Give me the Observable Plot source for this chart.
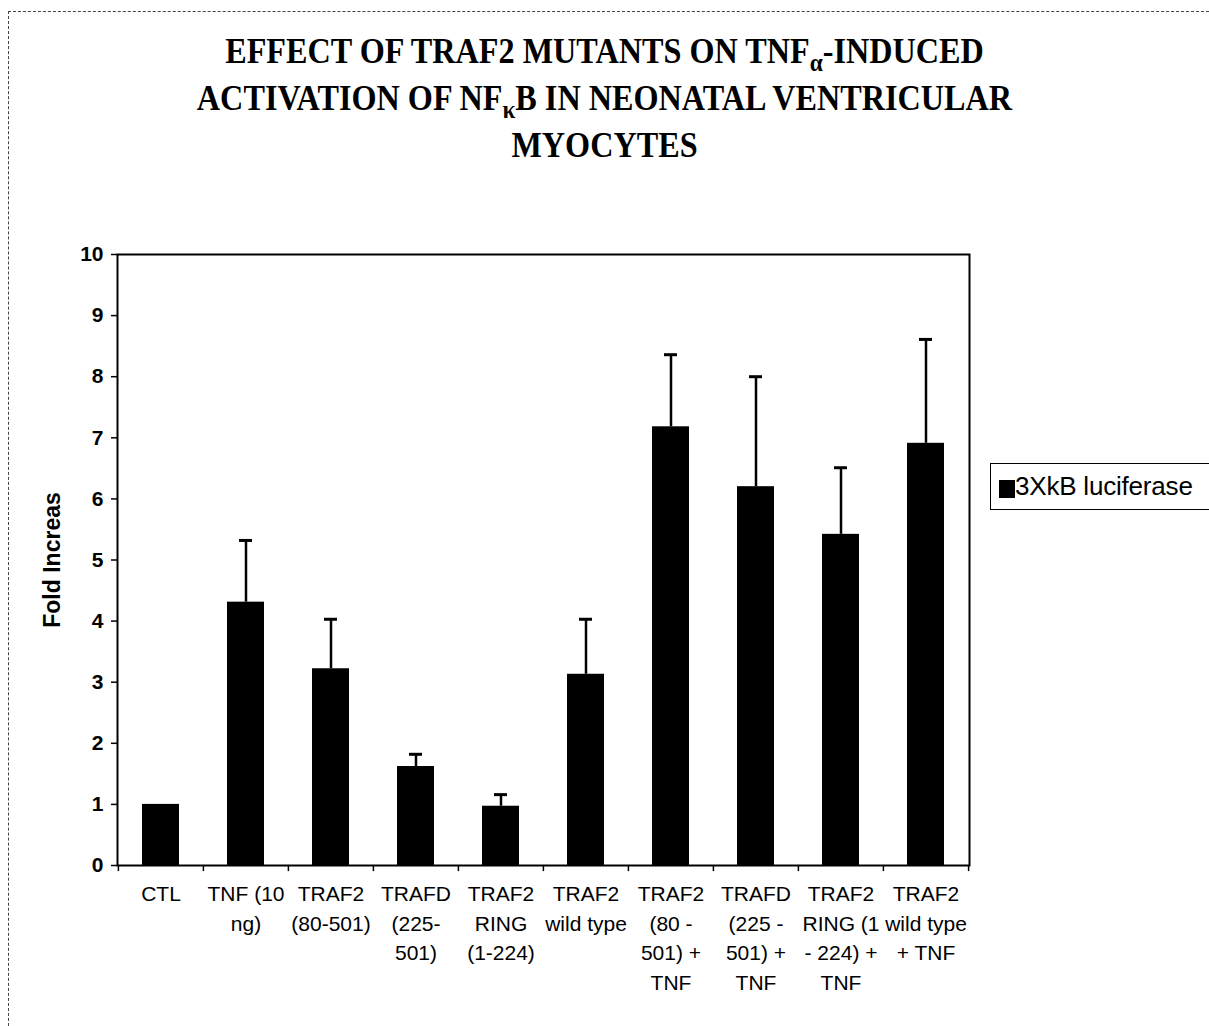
<!DOCTYPE html>
<html>
<head>
<meta charset="utf-8">
<script src="https://cdn.jsdelivr.net/npm/d3@7"></script>
<script src="https://cdn.jsdelivr.net/npm/@observablehq/plot@0.6"></script>
<style>
  html, body { margin: 0; padding: 0; background: #fff; }
  #page { position: relative; width: 1209px; height: 1026px; overflow: hidden; background: #fff; }
  #border { position: absolute; left: 8px; top: 11px; right: -10px; bottom: -10px;
            border-top: 1px dashed #444; border-left: 1px dashed #444; }
  #title { position: absolute; left: 0; width: 1209px; top: 28px; text-align: center;
           font-family: "Liberation Serif", "Times New Roman", serif; font-weight: bold;
           font-size: 36px; line-height: 47px; color: #000; }
  #title div { transform: scaleX(0.895); transform-origin: 50% 50%; white-space: nowrap; }
  #title sub { font-size: 26px; vertical-align: -8px; line-height: 0; }
  #chart { position: absolute; left: 0; top: 0; }
  #legend { position: absolute; left: 990px; top: 463px; width: 260px; height: 47px;
            border: 1.5px solid #000; box-sizing: border-box; }
  #legend .sw { position: absolute; left: 8px; top: 16px; width: 16px; height: 18px; background: #000; }
  #legend .lb { position: absolute; left: 24px; top: 7px; font-family: "Liberation Sans", Arial, sans-serif;
                font-size: 26px; letter-spacing: -0.2px; color: #000; white-space: nowrap; }
</style>
</head>
<body>
<div id="page">
  <div id="border"></div>
  <div id="chart"></div>
  <div id="title">
    <div>EFFECT OF TRAF2 MUTANTS ON TNF<sub>α</sub>-INDUCED</div>
    <div>ACTIVATION OF NF<sub>κ</sub>B IN NEONATAL VENTRICULAR</div>
    <div>MYOCYTES</div>
  </div>
  <div id="legend"><div class="sw"></div><div class="lb">3XkB luciferase</div></div>
</div>
<script>
const categories = ["CTL", "TNF (10 ng)", "TRAF2 (80-501)", "TRAFD (225-501)", "TRAF2 RING (1-224)",
  "TRAF2 wild type", "TRAF2 (80-501) + TNF", "TRAFD (225-501) + TNF", "TRAF2 RING (1-224) + TNF", "TRAF2 wild type + TNF"];
const tickLabels = ["CTL", "TNF (10\nng)", "TRAF2\n(80-501)", "TRAFD\n(225-\n501)", "TRAF2\nRING\n(1-224)",
  "TRAF2\nwild type", "TRAF2\n(80 -\n501) +\nTNF", "TRAFD\n(225 -\n501) +\nTNF", "TRAF2\nRING (1\n- 224) +\nTNF", "TRAF2\nwild type\n+ TNF"];
const values = [1.0, 4.31, 3.22, 1.62, 0.97, 3.13, 7.18, 6.20, 5.42, 6.91];
const errorTops = [null, 5.32, 4.03, 1.82, 1.16, 4.03, 8.36, 8.00, 6.51, 8.61];
const yTicks = [0, 1, 2, 3, 4, 5, 6, 7, 8, 9, 10];
const yLabel = "Fold Increas";
const seriesName = "3XkB luciferase";

const data = categories.map((c, i) => ({cat: c, value: values[i], err: errorTops[i]}));
const errData = data.filter(d => d.err != null);
const labelMap = new Map(categories.map((c, i) => [c, tickLabels[i]]));

const W = 1209, H = 1026, mL = 117, mR = 240, mT = 254, mB = 161;
const step = (W - mL - mR) / categories.length;

const chart = Plot.plot({
  width: W, height: H,
  marginLeft: mL, marginRight: mR, marginTop: mT, marginBottom: mB,
  style: {fontFamily: "'Liberation Sans', Arial, sans-serif", color: "#000", background: "transparent"},
  x: {domain: categories, paddingInner: 0.56, paddingOuter: 0.28, axis: null},
  y: {domain: [0, 10], axis: null},
  marks: [
    Plot.barY(data, {x: "cat", y: "value", fill: "#000"}),
    Plot.ruleX(errData, {x: "cat", y1: "value", y2: "err", stroke: "#000", strokeWidth: 2.5}),
    Plot.tickY(errData, {x: "cat", y: "err", stroke: "#000", strokeWidth: 3, insetLeft: 12, insetRight: 12}),
    Plot.frame({stroke: "#000", strokeWidth: 2}),
    Plot.ruleX(categories, {x: d => d, dx: -step / 2, y1: 0, y2: -0.1, stroke: "#000", strokeWidth: 1.5}),
    Plot.ruleX([categories[categories.length - 1]], {x: d => d, dx: step / 2, y1: 0, y2: -0.1, stroke: "#000", strokeWidth: 1.5}),
    Plot.axisY({ticks: yTicks, tickSize: 6, tickPadding: 8, fontSize: 21, fontWeight: "bold",
      label: null, strokeWidth: 1.5}),
    Plot.text([yLabel], {frameAnchor: "left", dx: -65, rotate: -90, fontSize: 23, fontWeight: "bold",
      textAnchor: "middle", text: d => d}),
    Plot.axisX({tickSize: 0, tickPadding: 15, tickFormat: d => labelMap.get(d), lineHeight: 1.4,
      fontSize: 21, label: null, textStroke: "none"})
  ]
});
document.getElementById("chart").appendChild(chart);
document.querySelector("#legend .lb").textContent = seriesName;
</script>
</body>
</html>
